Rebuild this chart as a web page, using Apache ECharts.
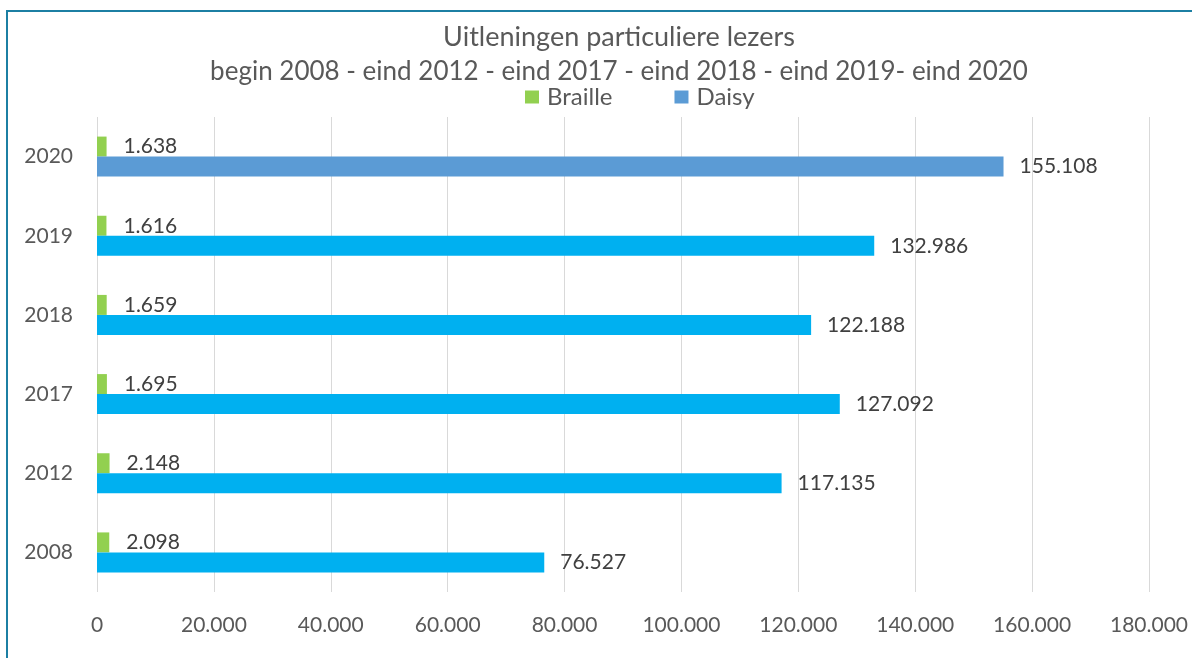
<!DOCTYPE html>
<html>
<head>
<meta charset="utf-8">
<title>Uitleningen particuliere lezers</title>
<script src="https://cdn.jsdelivr.net/npm/echarts@6/dist/echarts.min.js"></script>
<style>
  html, body { margin: 0; padding: 0; background: #fff; }
  #chart { width: 1192px; height: 658px; }
</style>
</head>
<body>
<div id="chart"></div>
<script>
// jaren (van onder naar boven)
const categories = ['2008', '2012', '2017', '2018', '2019', '2020'];
const brailleValues = [2098, 2148, 1695, 1659, 1616, 1638];
const daisyValues = [76527, 117135, 127092, 122188, 132986, 155108];
const xTicks = [0, 20000, 40000, 60000, 80000, 100000, 120000, 140000, 160000, 180000];

const FONT = 'Lato, "Liberation Sans", sans-serif';

// 1638 -> "1.638"
const fmt = v => String(Math.round(v)).replace(/\B(?=(\d{3})+(?!\d))/g, '.');

const chart = echarts.init(document.getElementById('chart'));

chart.setOption({
  backgroundColor: '#ffffff',
  animation: false,
  textStyle: { fontFamily: FONT },
  graphic: [{
    type: 'rect',
    shape: { x: 7, y: 11, width: 1400, height: 800 },
    style: { fill: 'none', stroke: '#1c7fa3', lineWidth: 2 },
    silent: true
  }],
  title: [{
    text: 'Uitleningen particuliere lezers',
    left: 614,
    top: 19,
    textAlign: 'center',
    textStyle: { fontFamily: FONT, fontSize: 27, fontWeight: 'normal', color: '#595959' }
  }, {
    text: 'begin 2008 - eind 2012 - eind 2017 - eind 2018 - eind 2019- eind 2020',
    left: 614,
    top: 54,
    textAlign: 'center',
    textStyle: { fontFamily: FONT, fontSize: 26, fontWeight: 'normal', color: '#595959' }
  }],
  legend: {
    data: ['Braille', 'Daisy'],
    left: 520,
    top: 80,
    itemWidth: 14,
    itemHeight: 13,
    itemGap: 62,
    icon: 'rect',
    textStyle: { fontFamily: FONT, fontSize: 24, color: '#595959', padding: [0, 0, 0, 3] }
  },
  grid: { left: 97, right: 43, top: 117, bottom: 66 },
  xAxis: {
    type: 'value',
    min: xTicks[0],
    max: xTicks[xTicks.length - 1],
    interval: xTicks[1] - xTicks[0],
    axisLine: { show: false },
    axisTick: { show: false },
    splitLine: { lineStyle: { color: '#d9d9d9', width: 1 } },
    axisLabel: {
      margin: 23,
      fontSize: 21,
      color: '#595959',
      fontFamily: FONT,
      formatter: v => fmt(v)
    }
  },
  yAxis: {
    type: 'category',
    data: categories,
    axisLine: { show: false },
    axisTick: { show: false },
    axisLabel: { margin: 24, fontSize: 21, color: '#595959', fontFamily: FONT }
  },
  series: [{
    name: 'Braille',
    type: 'bar',
    data: brailleValues,
    barWidth: 20,
    barGap: '0%',
    itemStyle: { color: '#92d050' },
    label: {
      show: true,
      position: 'right',
      distance: 17,
      fontSize: 21,
      color: '#404040',
      fontFamily: FONT,
      formatter: p => fmt(p.value)
    }
  }, {
    name: 'Daisy',
    type: 'bar',
    data: daisyValues.map((v, i) => ({
      value: v,
      itemStyle: { color: categories[i] === '2020' ? '#5b9bd5' : '#00b0f0' }
    })),
    barWidth: 20,
    barGap: '0%',
    itemStyle: { color: '#5b9bd5' },
    label: {
      show: true,
      position: 'right',
      distance: 16,
      fontSize: 21,
      color: '#404040',
      fontFamily: FONT,
      formatter: p => fmt(p.value)
    }
  }]
});

window.addEventListener('resize', () => chart.resize());
</script>
</body>
</html>
